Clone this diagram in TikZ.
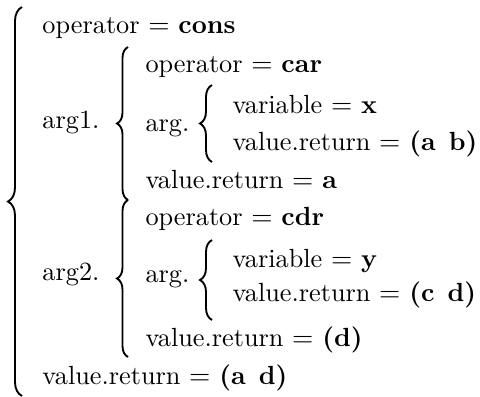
\documentclass[tikz,border=0pt]{standalone}
\usetikzlibrary{positioning, decorations.pathreplacing}

\begin{document}
\begin{tikzpicture}[
    x=0.4pt, y=-0.4pt,
    every node/.style={font=\fontsize{10.5}{12.5}\selectfont, inner sep=0pt, anchor=base west},
    brc/.style={decorate, decoration={brace, amplitude=#1}, line width=0.75pt},
    brc/.default=4pt
  ]
  \useasboundingbox (0,0) rectangle (480,396);

  % outer level
  \node (op0)  at (42,33)  {operator $=$ \textbf{cons}};
  \node (arg1) at (42,128) {arg1.};
  \node (arg2) at (42,280) {arg2.};
  \node (ret0) at (42,384) {value.return $=$ \textbf{(a\enspace d)}};

  % arg1 branch
  \node (op1)  at (145,72)  {operator $=$ \textbf{car}};
  \node (in1)  at (145,131) {arg.};
  \node (var1) at (232,113) {variable $=$ \textbf{x}};
  \node (val1) at (232,150) {value.return $=$ \textbf{(a\enspace b)}};
  \node (ret1) at (145,188) {value.return $=$ \textbf{a}};

  % arg2 branch
  \node (op2)  at (145,225) {operator $=$ \textbf{cdr}};
  \node (in2)  at (145,282) {arg.};
  \node (var2) at (232,267) {variable $=$ \textbf{y}};
  \node (val2) at (232,301) {value.return $=$ \textbf{(c\enspace d)}};
  \node (ret2) at (145,346) {value.return $=$ \textbf{(d)}};

  % brace ends
  \coordinate (b0t) at (22,7);    \coordinate (b0b) at (22,396);
  \coordinate (b1t) at (128,47);  \coordinate (b1b) at (128,200);
  \coordinate (b2t) at (128,200); \coordinate (b2b) at (128,357);
  \coordinate (b3t) at (212,85);  \coordinate (b3b) at (212,162);
  \coordinate (b4t) at (212,240); \coordinate (b4b) at (212,320);

  \draw[brc=5.6pt] (b0b) -- (b0t);
  \draw[brc=4.4pt] (b1b) -- (b1t);
  \draw[brc=4.4pt] (b2b) -- (b2t);
  \draw[brc=4.8pt] (b3b) -- (b3t);
  \draw[brc=4.8pt] (b4b) -- (b4t);
\end{tikzpicture}
\end{document}
